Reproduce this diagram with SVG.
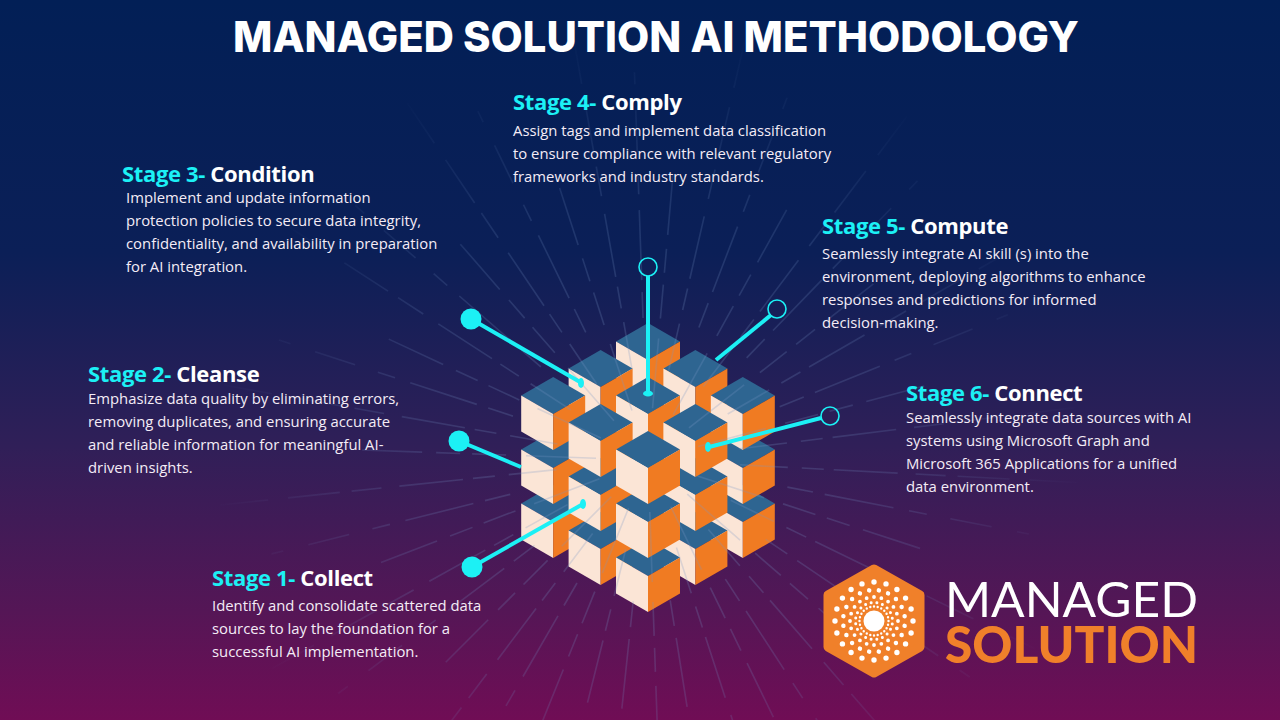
<svg xmlns="http://www.w3.org/2000/svg" width="1280" height="720" viewBox="0 0 1280 720">
<style>
text{font-family:"Open Sans","Noto Sans","Liberation Sans",sans-serif}
.h{font-size:22px;font-weight:700;fill:#fff;letter-spacing:-.35px}
.h .c{fill:#1cf0f5}
.b{font-size:14.85px;fill:#f4ecf6}
.t{fill:#2e6591}.l{fill:#fbe5d6}.r{fill:#f07b22}
.ln{stroke:#1cf0f5;stroke-width:4;fill:none}
.dot{fill:#1cf0f5}.ring{fill:none;stroke:#1cf0f5;stroke-width:1.6}
.ray{stroke:url(#rg);stroke-width:1.6;fill:none}
.d{fill:none;stroke:#fff;stroke-linecap:round}
</style>
<defs>
<linearGradient id="bg" x1="0" y1="0" x2="0" y2="1"><stop offset="0" stop-color="#021f56"/><stop offset=".35" stop-color="#0b1f57"/><stop offset=".62" stop-color="#301f58"/><stop offset=".85" stop-color="#551656"/><stop offset="1" stop-color="#700d55"/></linearGradient>
<radialGradient id="rg" gradientUnits="userSpaceOnUse" cx="648" cy="460" r="440"><stop offset="0" stop-color="#7f9cc8" stop-opacity=".28"/><stop offset=".6" stop-color="#6f8cc0" stop-opacity=".2"/><stop offset="1" stop-color="#6f8cc0" stop-opacity="0"/></radialGradient>
<line id="r1" class="ray" x1="740" y1="460" x2="1110" y2="460" stroke-dasharray="48 14 22 10 64 18 30 12 52 20"/>
<line id="r2" class="ray" x1="790" y1="460" x2="1050" y2="460" stroke-dasharray="26 12 70 16 18 24 42"/>
<line id="r3" class="ray" x1="700" y1="460" x2="960" y2="460" stroke-dasharray="70 20 34 12 24 14 60"/>
<g id="cube"><path class="t" d="M0 0L32 18.5L0 37L-32 18.5Z"/><path class="l" d="M-32 18.5L0 37V73L-32 54.5Z"/><path class="r" d="M32 18.5L0 37V73L32 54.5Z"/></g>
</defs>
<rect width="1280" height="720" fill="url(#bg)"/>
<g id="cube-stack">
<use href="#cube" x="648" y="431"/><use href="#cube" x="600.6" y="458"/><use href="#cube" x="695.4" y="458"/><use href="#cube" x="553.2" y="485"/><use href="#cube" x="648" y="485"/><use href="#cube" x="742.8" y="485"/><use href="#cube" x="600.6" y="512"/><use href="#cube" x="695.4" y="512"/><use href="#cube" x="648" y="539"/>
<use href="#cube" x="648" y="377"/><use href="#cube" x="600.6" y="404"/><use href="#cube" x="695.4" y="404"/><use href="#cube" x="553.2" y="431"/><use href="#cube" x="648" y="431"/><use href="#cube" x="742.8" y="431"/><use href="#cube" x="600.6" y="458"/><use href="#cube" x="695.4" y="458"/><use href="#cube" x="648" y="485"/>
<use href="#cube" x="648" y="323"/><use href="#cube" x="600.6" y="350"/><use href="#cube" x="695.4" y="350"/><use href="#cube" x="553.2" y="377"/><use href="#cube" x="648" y="377"/><use href="#cube" x="742.8" y="377"/><use href="#cube" x="600.6" y="404"/><use href="#cube" x="695.4" y="404"/><use href="#cube" x="648" y="431"/>
</g>
<g id="rays">
<use href="#r1" transform="rotate(3 648 460)"/><use href="#r2" transform="rotate(11 648 460)"/><use href="#r3" transform="rotate(18 648 460)"/><use href="#r1" transform="rotate(26 648 460)"/><use href="#r2" transform="rotate(34 648 460)"/><use href="#r3" transform="rotate(41 648 460)"/><use href="#r1" transform="rotate(49 648 460)"/><use href="#r2" transform="rotate(57 648 460)"/><use href="#r3" transform="rotate(64 648 460)"/><use href="#r1" transform="rotate(72 648 460)"/><use href="#r2" transform="rotate(81 648 460)"/><use href="#r3" transform="rotate(88 648 460)"/><use href="#r2" transform="rotate(96 648 460)"/><use href="#r1" transform="rotate(104 648 460)"/><use href="#r3" transform="rotate(112 648 460)"/><use href="#r2" transform="rotate(120 648 460)"/><use href="#r1" transform="rotate(127 648 460)"/><use href="#r3" transform="rotate(135 648 460)"/><use href="#r2" transform="rotate(143 648 460)"/><use href="#r1" transform="rotate(151 648 460)"/><use href="#r3" transform="rotate(159 648 460)"/><use href="#r2" transform="rotate(166 648 460)"/><use href="#r1" transform="rotate(174 648 460)"/><use href="#r3" transform="rotate(182 648 460)"/><use href="#r1" transform="rotate(190 648 460)"/><use href="#r2" transform="rotate(198 648 460)"/><use href="#r3" transform="rotate(205 648 460)"/><use href="#r1" transform="rotate(213 648 460)"/><use href="#r2" transform="rotate(221 648 460)"/><use href="#r3" transform="rotate(229 648 460)"/><use href="#r1" transform="rotate(236 648 460)"/><use href="#r2" transform="rotate(244 648 460)"/><use href="#r3" transform="rotate(252 648 460)"/><use href="#r1" transform="rotate(260 648 460)"/><use href="#r2" transform="rotate(268 648 460)"/><use href="#r3" transform="rotate(275 648 460)"/><use href="#r1" transform="rotate(283 648 460)"/><use href="#r2" transform="rotate(291 648 460)"/><use href="#r3" transform="rotate(299 648 460)"/><use href="#r1" transform="rotate(307 648 460)"/><use href="#r2" transform="rotate(314 648 460)"/><use href="#r3" transform="rotate(322 648 460)"/><use href="#r1" transform="rotate(330 648 460)"/><use href="#r2" transform="rotate(338 648 460)"/><use href="#r3" transform="rotate(345 648 460)"/><use href="#r1" transform="rotate(353 648 460)"/>
</g>
<g id="connectors">
<line class="ln" x1="471" y1="319" x2="580" y2="382"/><ellipse class="dot" cx="581" cy="383" rx="3" ry="5"/><circle class="dot" cx="471" cy="319" r="10.5"/>
<line class="ln" x1="459" y1="441" x2="521" y2="467"/><circle class="dot" cx="459" cy="441" r="10.5"/>
<line class="ln" x1="472" y1="567" x2="583" y2="504"/><ellipse class="dot" cx="583" cy="504" rx="3" ry="5"/><circle class="dot" cx="472" cy="567" r="10.5"/>
<line class="ln" x1="648" y1="276" x2="648" y2="393"/><ellipse class="dot" cx="648" cy="393.5" rx="5" ry="3"/><circle class="ring" cx="648" cy="267" r="9"/>
<line class="ln" x1="716" y1="360" x2="771" y2="315"/><circle class="ring" cx="777" cy="309" r="9"/>
<line class="ln" x1="709" y1="447" x2="821" y2="418"/><ellipse class="dot" cx="708" cy="447" rx="3" ry="5"/><circle class="ring" cx="830" cy="416" r="9"/>
</g>
<text id="title" x="656" y="52" text-anchor="middle" textLength="846" lengthAdjust="spacingAndGlyphs" style="font-family:Inter,'Liberation Sans',sans-serif;font-size:42px;font-weight:800" fill="#fff">MANAGED SOLUTION AI METHODOLOGY</text>
<g id="stage-1"><text class="h" x="212" y="586"><tspan class="c">Stage 1- </tspan>Collect</text><text class="b" x="212" y="611">Identify and consolidate scattered data</text><text class="b" x="212" y="634">sources to lay the foundation for a</text><text class="b" x="212" y="657">successful AI implementation.</text></g>
<g id="stage-2"><text class="h" x="88" y="382"><tspan class="c">Stage 2- </tspan>Cleanse</text><text class="b" x="88" y="404">Emphasize data quality by eliminating errors,</text><text class="b" x="88" y="427">removing duplicates, and ensuring accurate</text><text class="b" x="88" y="450">and reliable information for meaningful AI-</text><text class="b" x="88" y="473">driven insights.</text></g>
<g id="stage-3"><text class="h" x="122" y="182"><tspan class="c">Stage 3- </tspan>Condition</text><text class="b" x="126" y="203">Implement and update information</text><text class="b" x="126" y="226">protection policies to secure data integrity,</text><text class="b" x="126" y="249">confidentiality, and availability in preparation</text><text class="b" x="126" y="272">for AI integration.</text></g>
<g id="stage-4"><text class="h" x="513" y="110"><tspan class="c">Stage 4- </tspan>Comply</text><text class="b" x="513" y="136">Assign tags and implement data classification</text><text class="b" x="513" y="159">to ensure compliance with relevant regulatory</text><text class="b" x="513" y="182">frameworks and industry standards.</text></g>
<g id="stage-5"><text class="h" x="822" y="234"><tspan class="c">Stage 5- </tspan>Compute</text><text class="b" x="822" y="259">Seamlessly integrate AI skill (s) into the</text><text class="b" x="822" y="282">environment, deploying algorithms to enhance</text><text class="b" x="822" y="305">responses and predictions for informed</text><text class="b" x="822" y="328">decision-making.</text></g>
<g id="stage-6"><text class="h" x="906" y="401"><tspan class="c">Stage 6- </tspan>Connect</text><text class="b" x="906" y="423">Seamlessly integrate data sources with AI</text><text class="b" x="906" y="446">systems using Microsoft Graph and</text><text class="b" x="906" y="469">Microsoft 365 Applications for a unified</text><text class="b" x="906" y="492">data environment.</text></g>
<g id="logo">
<path d="M874 569L920 595V647L874 673L828 647V595Z" fill="#f0802a" stroke="#f0802a" stroke-width="9" stroke-linejoin="round"/>
<circle cx="874" cy="621" r="10.5" fill="#fff"/>
<circle class="d" cx="874" cy="621" r="14.5" pathLength="24" stroke-dasharray="0 1" stroke-width="2.4"/>
<circle class="d" cx="874" cy="621" r="18.5" pathLength="20" stroke-dasharray="0 1" stroke-width="3" transform="rotate(9 874 621)"/>
<circle class="d" cx="874" cy="621" r="24" pathLength="20" stroke-dasharray="0 1" stroke-width="3.8"/>
<circle class="d" cx="874" cy="621" r="31" pathLength="20" stroke-dasharray="0 1" stroke-width="4.5" transform="rotate(9 874 621)"/>
<circle class="d" cx="874" cy="621" r="39" pathLength="20" stroke-dasharray="0 1" stroke-width="5.4"/>
<text x="945" y="617" textLength="253" lengthAdjust="spacingAndGlyphs" style="font-family:Lato,'Liberation Sans',sans-serif;font-size:49px;font-weight:400" fill="#fff">MANAGED</text>
<text x="945" y="663" textLength="253" lengthAdjust="spacingAndGlyphs" style="font-family:Lato,'Liberation Sans',sans-serif;font-size:51px;font-weight:900" fill="#f0802a">SOLUTION</text>
</g>
</svg>
